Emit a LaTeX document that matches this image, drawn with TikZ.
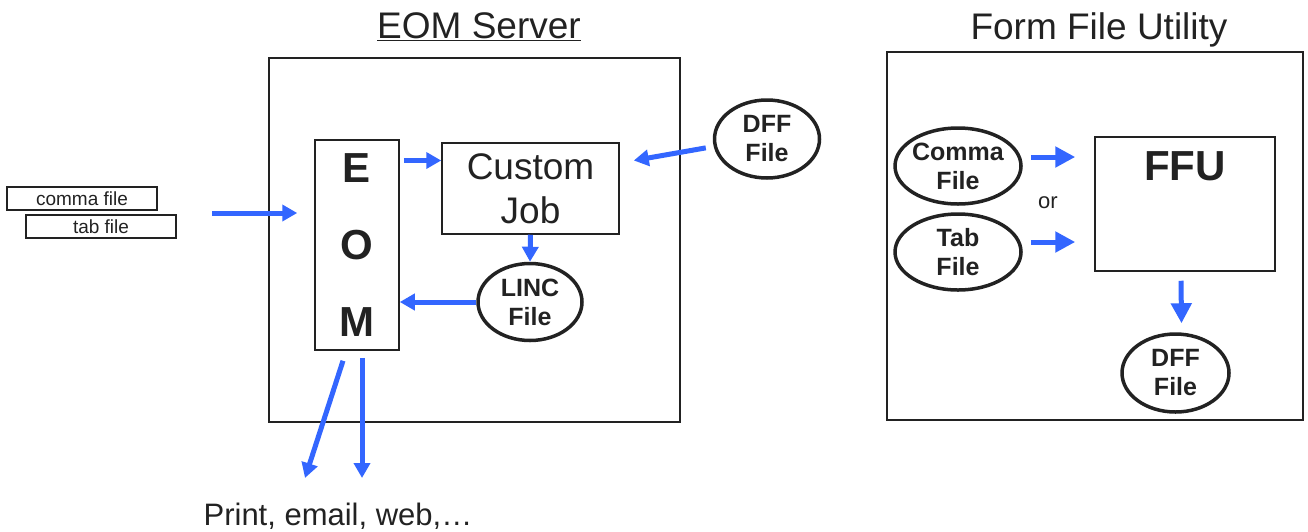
\documentclass[tikz,border=0pt]{standalone}
\usepackage{fontspec}
\setmainfont{Liberation Sans}
\usetikzlibrary{shapes.geometric,arrows.meta,calc,positioning}
\definecolor{flowblue}{RGB}{51,102,255}
\definecolor{ink}{RGB}{34,34,34}
\tikzset{
  box/.style={draw=ink,line width=1.5,inner sep=0},
  file/.style={ellipse,draw=ink,line width=3.5,inner sep=-3,align=center,font=\bfseries\fontsize{25}{29}\selectfont},
  flow/.style={draw=flowblue,line width=5,-{Triangle[length=15,width=16]}},
  bigflow/.style={flow,-{Triangle[length=20,width=20]}}
}
\begin{document}
\begin{tikzpicture}[x=1pt,y=-1pt,text=ink]
\useasboundingbox (0,0) rectangle (1308,531);
\node (srvtitle) at (479,27) {\fontsize{37}{44}\selectfont\underline{EOM Server}};
\node (ffutitle) at (1099,30) {\fontsize{37}{44}\selectfont Form File Utility};
\node[box,minimum width=411,minimum height=364] (srv) at (474.5,240) {};
\node[box,minimum width=84,minimum height=210,align=center,font=\bfseries\fontsize{42}{77}\selectfont] (eom) at (357,245) {E\\O\\M};
\node[box,minimum width=177,minimum height=91,align=center,font=\fontsize{37}{44}\selectfont] (cj) at (530.5,188.5) {Custom\\Job};
\node[file,minimum width=104,minimum height=77] (linc) at (530,302) {LINC\\File};
\node[file,minimum width=105,minimum height=78] (dffa) at (767,139) {DFF\\File};
\node[box,minimum width=150,minimum height=23,font=\fontsize{19}{22}\selectfont] (comma) at (82,198.5) {comma file};
\node[box,minimum width=150,minimum height=23,font=\fontsize{19}{22}\selectfont] (tab) at (101,226.5) {tab file};
\coordinate (in) at (212,213);
\coordinate (outa) at (305,478);
\coordinate (outb) at (362,478);
\node (out) at (338,516) {\fontsize{31}{36}\selectfont Print, email, web,…};
\draw[flow] (in) -- ($(eom.west |- in)+(-17,0)$);
\draw[flow] ($(eom.east |- cj.west)+(4,-28)$) -- ($(cj.west)+(0,-28)$);
\draw[flow,shorten <=8] (dffa.188) -- ($(cj.east)+(14,-28)$);
\draw[flow] (cj.south) -- (linc.north);
\draw[flow] (linc.west) -- (eom.east |- linc.west);
\draw[flow] ($(eom.south)+(-14,10)$) -- (outa);
\draw[flow] ($(eom.south)+(5,7)$) -- (outb);
\node[box,minimum width=416,minimum height=368] (ffuarea) at (1095,236) {};
\node[file,minimum width=126,minimum height=76] (comma2) at (958,166) {Comma\\File};
\node[file,minimum width=126,minimum height=76] (tab2) at (958,252) {Tab\\File};
\node (or) at (1048,203) {\fontsize{22}{26}\selectfont or};
\node[box,minimum width=180,minimum height=134] (ffu) at (1185,204) {};
\node[anchor=north,inner sep=0,font=\bfseries\fontsize{42}{48}\selectfont] (ffulabel) at ($(ffu.north)+(0,15)$) {FFU};
\node[file,minimum width=107,minimum height=78] (dffb) at (1175.5,373) {DFF\\File};
\draw[bigflow] ($(comma2.east)+(8,-9)$) -- ($(ffu.west |- comma2.east)+(-19,-9)$);
\draw[bigflow] ($(tab2.east)+(8,-10)$) -- ($(ffu.west |- tab2.east)+(-19,-10)$);
\draw[bigflow] ($(ffu.south)+(-4,9)$) -- ($(dffb.north)+(6,-9)$);
\end{tikzpicture}
\end{document}
